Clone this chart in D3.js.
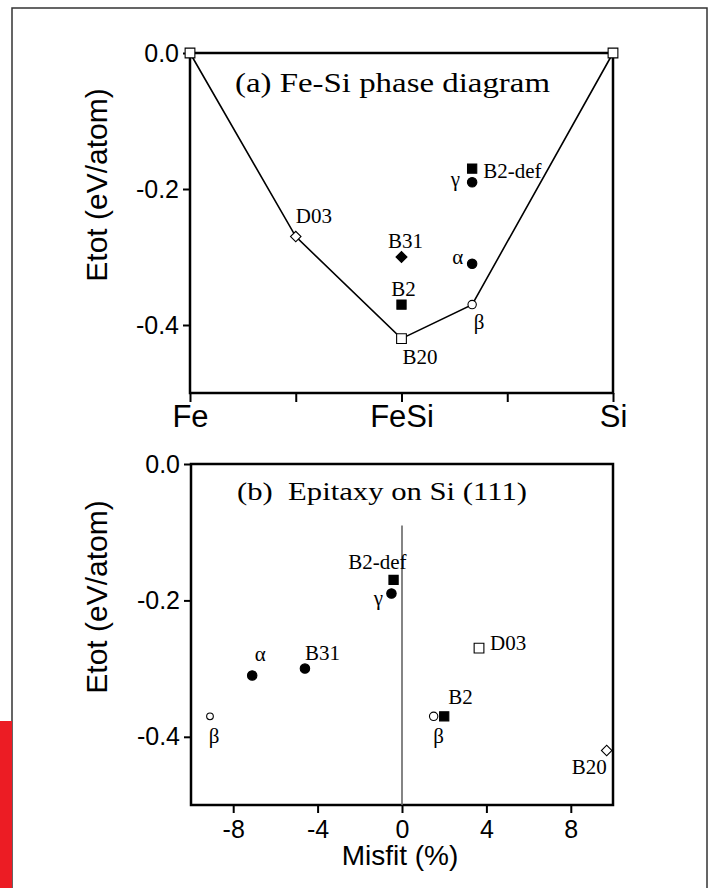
<!DOCTYPE html>
<html>
<head>
<meta charset="utf-8">
<script src="https://cdn.jsdelivr.net/npm/d3@7"></script>
<style>
  body { margin: 0; background: #fff; }
  .sans { font-family: "Liberation Sans", Arial, sans-serif; }
  .serif { font-family: "Liberation Serif", "Times New Roman", serif; }
</style>
</head>
<body>
<script>
// ---- data: (a) Fe-Si phase diagram ----
var hullPhases = ["Fe", "D03", "B20", "β", "Si"];
var hullFrac   = [0, 0.25, 0.5, 0.667, 1];          // Si fraction
var hullEtot   = [0, -0.27, -0.42, -0.37, 0];

var offPhases = ["B31", "B2", "α", "γ", "B2-def"];
var offFrac   = [0.5, 0.5, 0.667, 0.667, 0.667];
var offEtot   = [-0.30, -0.37, -0.31, -0.19, -0.17];

var compTicks  = [0, 0.25, 0.5, 0.75, 1];
var compLabels = ["Fe", "", "FeSi", "", "Si"];
var etotTicks  = [0, -0.2, -0.4];

// ---- data: (b) Epitaxy on Si(111) ----
var epiPhases = ["β", "α", "B31", "γ", "B2-def", "β", "B2", "D03", "B20"];
var epiMisfit = [-9.1, -7.1, -4.6, -0.5, -0.4, 1.5, 2.0, 3.65, 9.7];
var epiEtot   = [-0.37, -0.31, -0.30, -0.19, -0.17, -0.37, -0.37, -0.27, -0.42];
var misfitTicks = [-8, -4, 0, 4, 8];

// ---- marker kinds and label placement (style only) ----
var hullMarks = ["openSquare", "openDiamond", "openSquare", "openCircle", "openSquare"];
var offMarks  = ["fillDiamond", "fillSquare", "fillCircle", "fillCircle", "fillSquare"];
var epiMarks  = ["smallCircle", "fillCircle", "fillCircle", "fillCircle", "fillSquare",
                 "openCircle", "fillSquare", "openSquare", "openDiamond"];

// [dx, dy, anchor]
var hullLab = [null, [0, -14, "start"], [1, 25, "start"], [7, 24, "middle"], null];
var offLab  = [[4, -9, "middle"], [2, -9, "middle"], [-9, 0, "end"], [-12, 4, "end"], [11, 9, "start"]];
var epiLab  = [[4, 27, "middle"], [8, -14, "middle"], [0, -9, "start"], [-13, 11, "middle"],
               [13, -11, "end"], [5, 27, "middle"], [4, -12, "start"], [11, 2, "start"], [0, 24, "end"]];

var markStyle = {
  openSquare:  { type: d3.symbolSquare, size: 95, fill: "#fff", rot: 0 },
  fillSquare:  { type: d3.symbolSquare, size: 85, fill: "#000", rot: 0 },
  openDiamond: { type: d3.symbolSquare, size: 55, fill: "#fff", rot: 45 },
  fillDiamond: { type: d3.symbolSquare, size: 60, fill: "#000", rot: 45 },
  fillCircle:  { type: d3.symbolCircle, size: 70, fill: "#000", rot: 0 },
  openCircle:  { type: d3.symbolCircle, size: 55, fill: "#fff", rot: 0 },
  smallCircle: { type: d3.symbolCircle, size: 35, fill: "#fff", rot: 0 }
};

var W = 713, H = 888;
var svg = d3.select("body").append("svg").attr("width", W).attr("height", H);

// page frame and red edge
svg.append("rect").attr("x", 12).attr("y", 8).attr("width", 695).attr("height", H)
  .attr("fill", "none").attr("stroke", "#333").attr("stroke-width", 1.5);
svg.append("rect").attr("x", 0).attr("y", 721).attr("width", 12).attr("height", H - 721)
  .attr("fill", "#ec1c24");

function styleAxis(g, fontSize) {
  g.select(".domain").remove();
  g.selectAll(".tick line").attr("stroke", "#000").attr("stroke-width", 2);
  g.selectAll(".tick text").attr("class", "sans").attr("fill", "#000")
    .attr("font-size", fontSize);
}

function drawMarks(g, xs, ys, kinds, x, y) {
  g.selectAll(null)
    .data(xs.map(function(d, i) { return { x: d, y: ys[i], k: kinds[i] }; }))
    .enter()
    .append("path")
    .attr("d", function(d) { return d3.symbol().type(markStyle[d.k].type).size(markStyle[d.k].size)(); })
    .attr("transform", function(d) {
      return "translate(" + x(d.x) + "," + y(d.y) + ") rotate(" + markStyle[d.k].rot + ")";
    })
    .attr("fill", function(d) { return markStyle[d.k].fill; })
    .attr("stroke", "#000")
    .attr("stroke-width", 1.1);
}

function drawLabels(g, names, xs, ys, offs, x, y) {
  g.selectAll(null)
    .data(names.map(function(n, i) { return { n: n, x: xs[i], y: ys[i], o: offs[i] }; })
      .filter(function(d) { return d.o; }))
    .enter()
    .append("text")
    .attr("class", "serif")
    .attr("font-size", 21)
    .attr("x", function(d) { return x(d.x) + d.o[0]; })
    .attr("y", function(d) { return y(d.y) + d.o[1]; })
    .attr("text-anchor", function(d) { return d.o[2]; })
    .text(function(d) { return d.n; });
}

function yTitle(cx, cy) {
  svg.append("text").attr("class", "sans").attr("font-size", 30)
    .attr("text-anchor", "middle")
    .attr("transform", "translate(" + cx + "," + cy + ") rotate(-90)")
    .text("Etot (eV/atom)");
}

// ================= panel (a) =================
var xA = d3.scaleLinear().domain([0, 1]).range([190, 613]);
var yA = d3.scaleLinear().domain([-0.5, 0]).range([393, 53]);
var gA = svg.append("g");

gA.append("g").attr("transform", "translate(0," + yA(-0.5) + ")")
  .call(d3.axisBottom(xA).tickValues(compTicks).tickSize(9).tickPadding(3)
    .tickFormat(function(d, i) { return compLabels[i]; }))
  .call(styleAxis, 31);

gA.append("g").attr("transform", "translate(" + xA(0) + ",0)")
  .call(d3.axisLeft(yA).tickValues(etotTicks).tickSize(7).tickPadding(4)
    .tickFormat(function(d) { return d.toFixed(1); }))
  .call(styleAxis, 25);

gA.append("rect").attr("x", xA(0)).attr("y", yA(0))
  .attr("width", xA(1) - xA(0)).attr("height", yA(-0.5) - yA(0))
  .attr("fill", "none").attr("stroke", "#000").attr("stroke-width", 2.5);

gA.append("path")
  .datum(hullFrac.map(function(d, i) { return [d, hullEtot[i]]; }))
  .attr("fill", "none").attr("stroke", "#000").attr("stroke-width", 1.6)
  .attr("d", d3.line().x(function(d) { return xA(d[0]); }).y(function(d) { return yA(d[1]); }));

drawMarks(gA, hullFrac, hullEtot, hullMarks, xA, yA);
drawMarks(gA, offFrac, offEtot, offMarks, xA, yA);
drawLabels(gA, hullPhases, hullFrac, hullEtot, hullLab, xA, yA);
drawLabels(gA, offPhases, offFrac, offEtot, offLab, xA, yA);

gA.append("text").attr("class", "serif").attr("font-size", 27)
  .attr("x", 235).attr("y", 92)
  .attr("textLength", 315).attr("lengthAdjust", "spacingAndGlyphs")
  .text("(a) Fe-Si phase diagram");

yTitle(107, 185);

// ================= panel (b) =================
var xB = d3.scaleLinear().domain([-10, 10]).range([191, 613]);
var yB = d3.scaleLinear().domain([-0.5, 0]).range([805, 464]);
var gB = svg.append("g");

gB.append("g").attr("transform", "translate(0," + yB(-0.5) + ")")
  .call(d3.axisBottom(xB).tickValues(misfitTicks).tickSize(8).tickPadding(7)
    .tickFormat(function(d) { return String(d); }))
  .call(styleAxis, 25);

gB.append("g").attr("transform", "translate(" + xB(-10) + ",0)")
  .call(d3.axisLeft(yB).tickValues(etotTicks).tickSize(7).tickPadding(4)
    .tickFormat(function(d) { return d.toFixed(1); }))
  .call(styleAxis, 25);

gB.append("rect").attr("x", xB(-10)).attr("y", yB(0))
  .attr("width", xB(10) - xB(-10)).attr("height", yB(-0.5) - yB(0))
  .attr("fill", "none").attr("stroke", "#000").attr("stroke-width", 2.5);

// zero-misfit line
gB.append("line")
  .attr("x1", xB(0)).attr("x2", xB(0))
  .attr("y1", yB(-0.09)).attr("y2", yB(-0.5))
  .attr("stroke", "#666").attr("stroke-width", 1.6);

drawMarks(gB, epiMisfit, epiEtot, epiMarks, xB, yB);
drawLabels(gB, epiPhases, epiMisfit, epiEtot, epiLab, xB, yB);

gB.append("text").attr("class", "serif").attr("font-size", 26)
  .attr("x", 237).attr("y", 500)
  .attr("textLength", 290).attr("lengthAdjust", "spacingAndGlyphs")
  .style("white-space", "pre")
  .text("(b)  Epitaxy on Si (111)");

yTitle(107, 597);

svg.append("text").attr("class", "sans").attr("font-size", 28)
  .attr("text-anchor", "middle").attr("x", 400).attr("y", 865)
  .text("Misfit (%)");
</script>
</body>
</html>
